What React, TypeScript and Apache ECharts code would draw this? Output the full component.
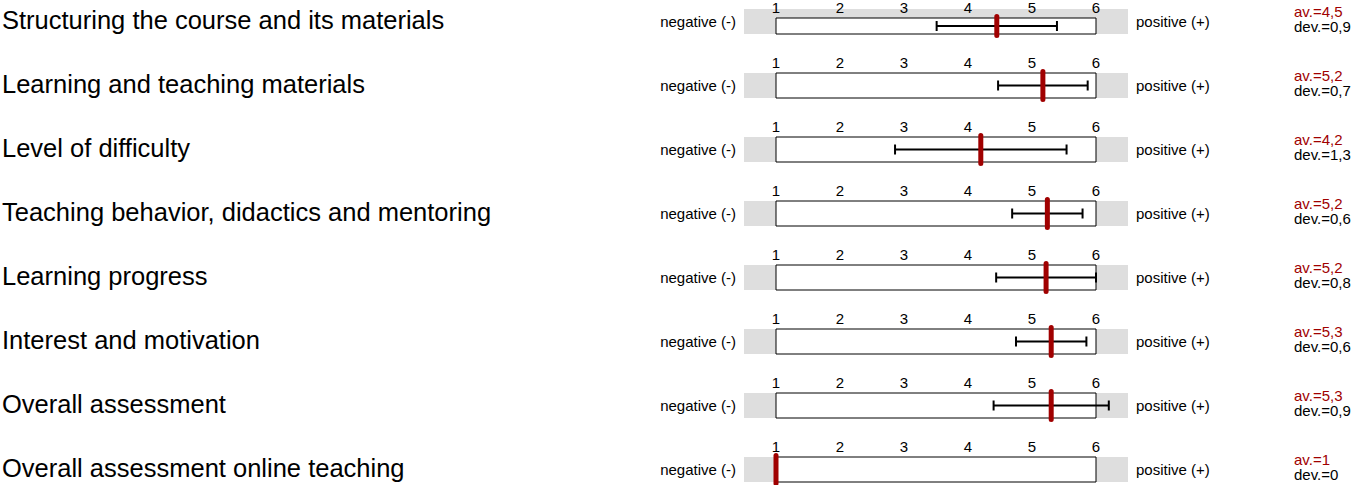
import React, { useEffect, useRef } from "react";
import * as echarts from "echarts";

const categories = [
  "Structuring the course and its materials",
  "Learning and teaching materials",
  "Level of difficulty",
  "Teaching behavior, didactics and mentoring",
  "Learning progress",
  "Interest and motivation",
  "Overall assessment",
  "Overall assessment online teaching",
];
const means = [4.45, 5.17, 4.2, 5.24, 5.22, 5.3, 5.3, 1];
const devs = [0.94, 0.7, 1.34, 0.55, 0.78, 0.55, 0.9, 0];
const scaleMin = 1;
const scaleMax = 6;
const leftText = "negative (-)";
const rightText = "positive (+)";

const FONT = "'Liberation Sans', Arial, Helvetica, sans-serif";
const ROW0 = 9;
const PITCH = 64;
const BOX_H = 25;
const BOX_L = 776;
const BOX_W = 320;
const BAND_L = 744;
const BAND_R = 1128;
const RED = "#a00000";
const BLUE = "#5b8ec4";

const fmt = (v: number) => String(Math.round(v * 10) / 10).replace(".", ",");

export default function App() {
  const ref = useRef<HTMLDivElement>(null);
  useEffect(() => {
    if (!ref.current) return;
    const chart = echarts.init(ref.current, undefined, { renderer: "svg" });
    const grids: any[] = [];
    const xAxes: any[] = [];
    const yAxes: any[] = [];
    const series: any[] = [];
    const graphics: any[] = [];
    categories.forEach((cat, i) => {
      const top = ROW0 + PITCH * i;
      const rc = top + BOX_H / 2;
      grids.push({
        left: BOX_L,
        top,
        width: BOX_W,
        height: BOX_H,
        show: true,
        backgroundColor: "#ffffff",
        borderColor: "#000000",
        borderWidth: 1,
        z: 1,
      });
      xAxes.push({
        type: "value",
        gridIndex: i,
        min: scaleMin,
        max: scaleMax,
        interval: 1,
        position: "top",
        axisLine: { show: false },
        axisTick: { show: false },
        axisLabel: { show: true, fontSize: 15, color: "#000", fontFamily: FONT, margin: 3 },
        splitLine: {
          show: true,
          showMinLine: false,
          showMaxLine: false,
          lineStyle: { color: BLUE, width: 1.2 },
        },
      });
      yAxes.push({ type: "value", gridIndex: i, min: 0, max: 1, show: false });
      series.push({
        type: "custom",
        xAxisIndex: i,
        yAxisIndex: i,
        clip: false,
        z: 5,
        data: [[means[i], means[i] - devs[i], means[i] + devs[i]]],
        renderItem: (params: any, api: any) => {
          const m = api.value(0);
          const lo = api.value(1);
          const hi = api.value(2);
          const yTop = api.coord([m, 1])[1];
          const yBot = api.coord([m, 0])[1];
          const cy = (yTop + yBot) / 2;
          const xm = api.coord([m, 0.5])[0];
          const xl = api.coord([lo, 0.5])[0];
          const xh = api.coord([hi, 0.5])[0];
          const blk = { stroke: "#000", lineWidth: 2 };
          return {
            type: "group",
            children: [
              { type: "line", shape: { x1: xl, y1: cy, x2: xh, y2: cy }, style: blk },
              { type: "line", shape: { x1: xl, y1: cy - 5, x2: xl, y2: cy + 5 }, style: blk },
              { type: "line", shape: { x1: xh, y1: cy - 5, x2: xh, y2: cy + 5 }, style: blk },
              {
                type: "line",
                shape: { x1: xm, y1: yTop - 1.5, x2: xm, y2: yBot + 1.5 },
                style: { stroke: RED, lineWidth: 5, lineCap: "round" },
              },
            ],
          };
        },
      });
      graphics.push(
        {
          type: "rect",
          z: -10,
          silent: true,
          shape: { x: BAND_L, y: top, width: BAND_R - BAND_L, height: BOX_H },
          style: { fill: "#dedede" },
        },
        {
          type: "text",
          x: 2,
          y: rc - 1.5,
          style: { text: cat, fontSize: 25.5, fontFamily: FONT, fill: "#000", verticalAlign: "middle" },
        },
        {
          type: "text",
          x: 736,
          y: rc - 0.5,
          style: { text: leftText, fontSize: 15, fontFamily: FONT, fill: "#000", align: "right", verticalAlign: "middle" },
        },
        {
          type: "text",
          x: 1136,
          y: rc - 0.5,
          style: { text: rightText, fontSize: 15, fontFamily: FONT, fill: "#000", align: "left", verticalAlign: "middle" },
        },
        {
          type: "text",
          x: 1294,
          y: rc - 2.5,
          style: {
            text: "{a|av.=" + fmt(means[i]) + "}\n{d|dev.=" + fmt(devs[i]) + "}",
            fontSize: 15,
            fontFamily: FONT,
            verticalAlign: "middle",
            lineHeight: 15,
            rich: {
              a: { fill: RED, fontSize: 15, fontFamily: FONT, lineHeight: 15 },
              d: { fill: "#000", fontSize: 15, fontFamily: FONT, lineHeight: 15 },
            },
          },
        }
      );
    });
    chart.setOption({
      animation: false,
      backgroundColor: "#ffffff",
      textStyle: { fontFamily: FONT },
      grid: grids,
      xAxis: xAxes,
      yAxis: yAxes,
      series,
      graphic: graphics,
    });
    return () => chart.dispose();
  }, []);
  return (
    <div
      ref={ref}
      style={{ position: "absolute", left: 0, top: 0, width: 1370, height: 485 }}
    />
  );
}
